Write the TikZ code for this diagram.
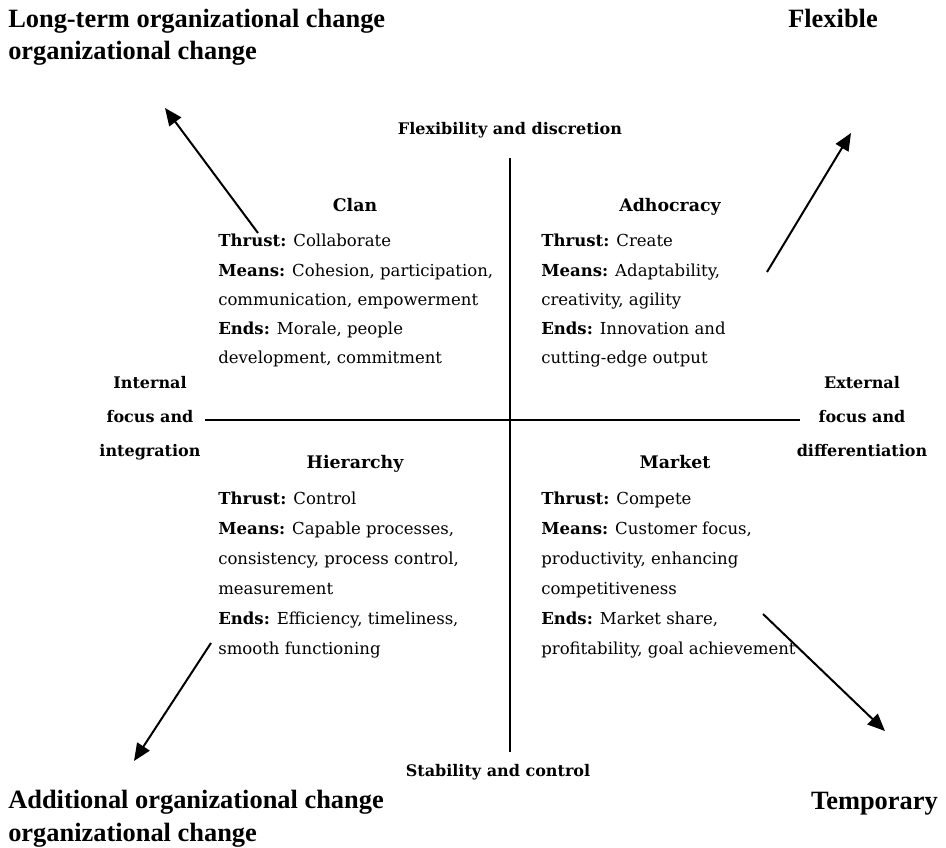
\documentclass[tikz,border=0pt]{standalone}
\usepackage{fontspec}
\setmainfont{DejaVu Serif}
\newfontfamily\cornerfont{Liberation Serif}
\usetikzlibrary{arrows.meta, positioning}

\tikzset{
  body/.style={anchor=base west, align=left, inner sep=0pt, font=\fontsize{12.4}{22}\selectfont},
  lowbody/.style={body, font=\fontsize{12.4}{22.5}\selectfont},
  quadtitle/.style={anchor=base, inner sep=0pt, font=\fontsize{13}{15}\selectfont\bfseries},
  axislabel/.style={anchor=base, align=center, inner sep=0pt, font=\fontsize{12}{25.5}\selectfont\bfseries},
  cornerlabel/.style={anchor=base west, align=left, inner sep=0pt, font=\fontsize{19.8}{24.5}\cornerfont\bfseries},
  axisline/.style={line width=1.5pt},
  trend/.style={line width=1.5pt, -{Triangle[length=13pt, width=11pt]}}
}

\begin{document}
\begin{tikzpicture}[x=0.75pt, y=-0.75pt]
  \useasboundingbox (0,0) rectangle (946,848);

  % axes
  \coordinate (top) at (510,158);
  \coordinate (bottom) at (510,752);
  \coordinate (left) at (205,420);
  \coordinate (right) at (800,420);
  \draw[axisline] (top) -- (bottom);
  \draw[axisline] (left) -- (right);

  \node[axislabel] (flex) at (510,135) {Flexibility and discretion};
  \node[axislabel] (stab) at (498,776) {Stability and control};
  \node[axislabel] (internal) at (150,456) {Internal\\focus and\\integration};
  \node[axislabel] (external) at (862,456) {External\\focus and\\differentiation};

  % quadrants
  \node[quadtitle] (clan) at (355,212) {Clan};
  \node[body] (clanText) at (218,364) {\textbf{Thrust:} Collaborate\\
    \textbf{Means:} Cohesion, participation,\\
    communication, empowerment\\
    \textbf{Ends:} Morale, people\\
    development, commitment};

  \node[quadtitle] (adho) at (670,212) {Adhocracy};
  \node[body] (adhoText) at (541,364) {\textbf{Thrust:} Create\\
    \textbf{Means:} Adaptability,\\
    creativity, agility\\
    \textbf{Ends:} Innovation and\\
    cutting-edge output};

  \node[quadtitle] (hier) at (355,469) {Hierarchy};
  \node[lowbody] (hierText) at (218,654) {\textbf{Thrust:} Control\\
    \textbf{Means:} Capable processes,\\
    consistency, process control,\\
    measurement\\
    \textbf{Ends:} Efficiency, timeliness,\\
    smooth functioning};

  \node[quadtitle] (mark) at (675,469) {Market};
  \node[lowbody] (markText) at (541,654) {\textbf{Thrust:} Compete\\
    \textbf{Means:} Customer focus,\\
    productivity, enhancing\\
    competitiveness\\
    \textbf{Ends:} Market share,\\
    profitability, goal achievement};

  % corners
  \node[cornerlabel] (longterm) at (8,60) {Long-term organizational change\\organizational change};
  \node[cornerlabel] (flexible) at (788,28) {Flexible};
  \node[cornerlabel] (additional) at (8,841) {Additional organizational change\\organizational change};
  \node[cornerlabel, anchor=base east] (temporary) at (938,809) {Temporary};

  % arrows
  \coordinate (a1) at (258,233);
  \coordinate (b1) at (165,108);
  \coordinate (a2) at (767,272);
  \coordinate (b2) at (851,133);
  \coordinate (a3) at (211,643);
  \coordinate (b3) at (134,761);
  \coordinate (a4) at (763,614);
  \coordinate (b4) at (885,731);
  \draw[trend] (a1) -- (b1);
  \draw[trend] (a2) -- (b2);
  \draw[trend] (a3) -- (b3);
  \draw[trend] (a4) -- (b4);
\end{tikzpicture}
\end{document}
